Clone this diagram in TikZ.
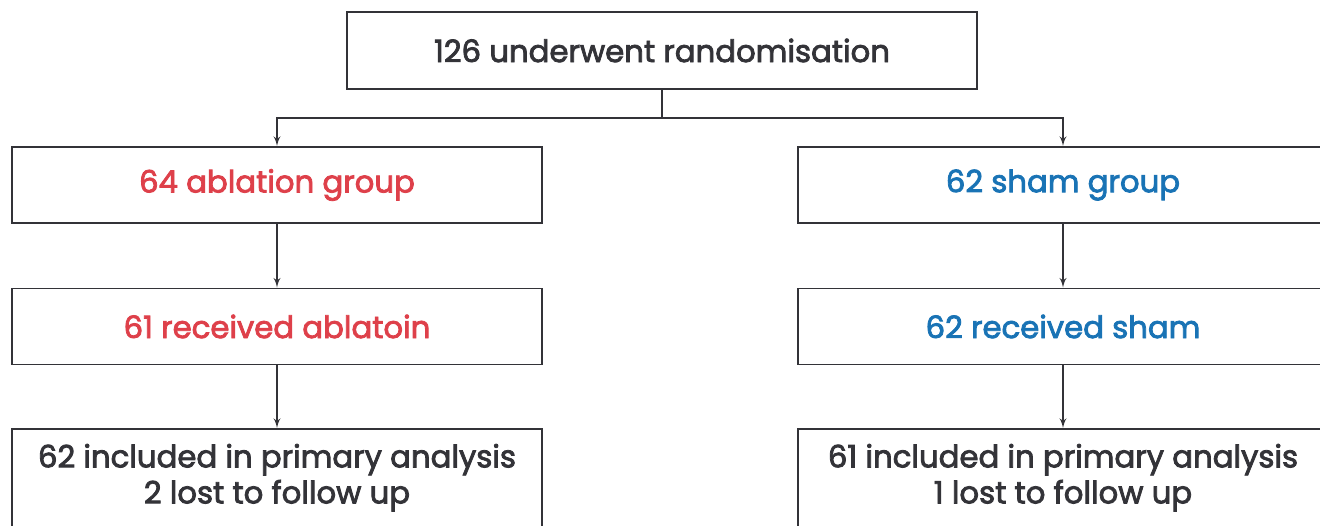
\documentclass[tikz,border=0pt]{standalone}
\usepackage{fontspec}
\setmainfont{Poppins}[FakeBold=2.6]
\usepackage{tikz}
\usetikzlibrary{arrows}
\usetikzlibrary{positioning}
\definecolor{mdark}{rgb}{0.2, 0.2, 0.22}
\definecolor{mred}{rgb}{0.87, 0.25, 0.29}
\definecolor{mblue}{rgb}{0.1, 0.45, 0.71}
\tikzset{box/.style = {draw=mdark, line width=1.1pt, rectangle,
                       minimum width=10.6cm, minimum height=1.52cm,
                       font=\fontsize{17.5}{20.5}\selectfont, text=mdark, align=center}}
\tikzset{flow/.style = {draw=mdark, line width=0.9pt, -latex'}}

\begin{document}
\begin{tikzpicture}
      \useasboundingbox (0, 0) rectangle (26.4, -10.52);

      \node [box, minimum width=12.6cm, minimum height=1.54cm] (rand) at (13.24, -1.01) {126 underwent randomisation};

      \node [box, text=mred] (abl) at (5.54, -3.7) {64 ablation group};
      \node [box, text=mblue] (sham) at (21.26, -3.7) {62 sham group};

      \node [box, text=mred] (ablrec) at (5.54, -6.53) {61 received ablatoin};
      \node [box, text=mblue] (shamrec) at (21.26, -6.53) {62 received sham};

      \node [box, anchor=north, minimum height=2.6cm, text depth=1.2cm, inner ysep=0.3cm] (ablfu) at (5.54, -8.56)
        {62 included in primary analysis\\2 lost to follow up};
      \node [box, anchor=north, minimum height=2.6cm, text depth=1.2cm, inner ysep=0.3cm] (shamfu) at (21.26, -8.56)
        {61 included in primary analysis\\1 lost to follow up};

      \coordinate (split) at ([yshift=-0.56cm] rand.south);
      \draw [draw=mdark, line width=0.9pt] (rand.south) -- (split);
      \draw [flow] (split) -| (abl.north);
      \draw [flow] (split) -| (sham.north);

      \draw [flow] (abl) -- (ablrec);
      \draw [flow] (sham) -- (shamrec);
      \draw [flow] (ablrec) -- (ablfu);
      \draw [flow] (shamrec) -- (shamfu);
    \end{tikzpicture}
\end{document}
